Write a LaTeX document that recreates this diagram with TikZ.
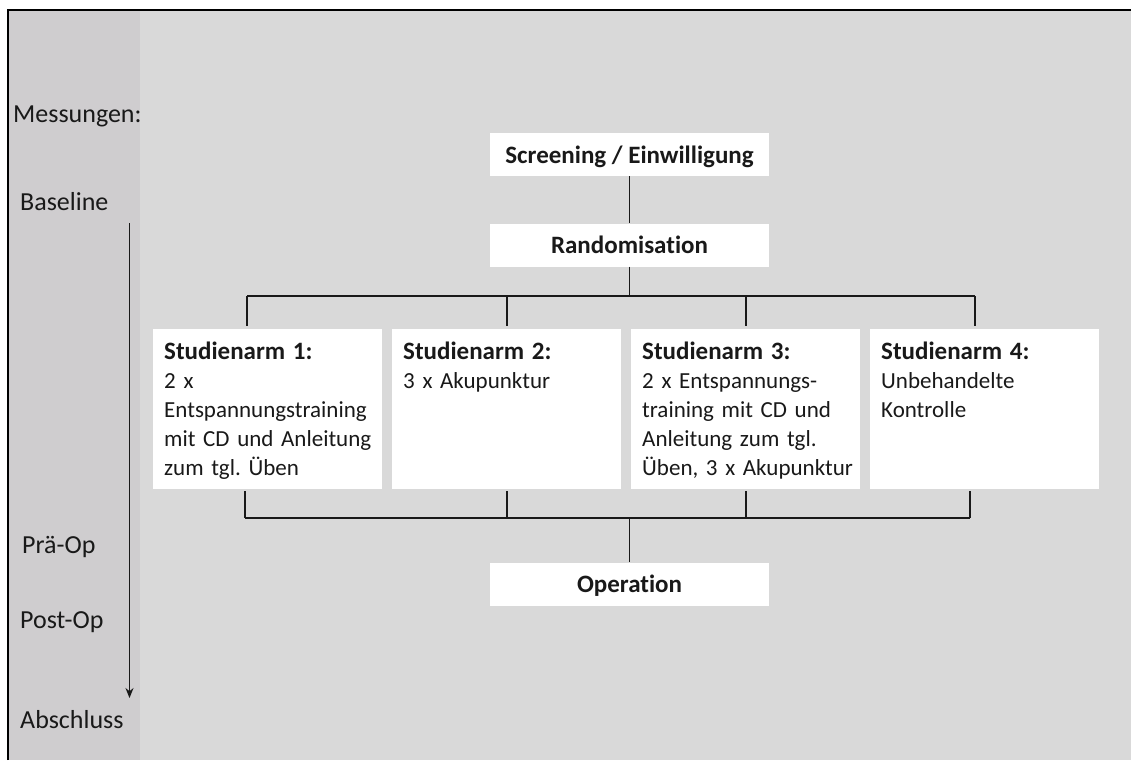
\documentclass[tikz,border=0pt]{standalone}
\usepackage{fontspec}
\setmainfont{Carlito}[Ligatures=NoCommon]
\usetikzlibrary{arrows.meta}
\definecolor{bgmain}{RGB}{217,217,217}
\definecolor{bgstrip}{RGB}{207,205,207}
\definecolor{ink}{RGB}{25,25,25}
\newcommand\armheadfont{\fontsize{25}{29}\selectfont\bfseries}
\frenchspacing
\begin{document}
\begin{tikzpicture}[x=1pt,y=-1pt,
  wbox/.style={fill=white, draw=none, inner sep=0pt, minimum width=279pt, minimum height=43pt,
    text height=20pt, text depth=3pt, font=\fontsize{25}{29}\selectfont\bfseries, text=ink},
  armbox/.style={fill=white, draw=none, inner sep=0pt, minimum width=229pt, minimum height=160pt, anchor=north west},
  armtext/.style={anchor=north west, inner sep=0pt, text width=215pt, align=left,
    font=\fontsize{23}{29}\selectfont, text=ink},
  side/.style={anchor=base west, inner sep=0pt, font=\fontsize{26}{30}\selectfont, text=ink},
  conn/.style={draw=ink, line width=1.6pt},
  timeline/.style={draw=ink, line width=1.3pt, -{Stealth[length=10pt,width=8pt]}},
]
\useasboundingbox (0,0) rectangle (1131,760);
\fill[white] (0,0) rectangle (1131,760);
\fill[bgmain] (8,10) rectangle (1131,760);
\fill[bgstrip] (8,10) rectangle (140,760);
\draw[black, line width=2pt] (8,760) -- (8,10) -- (1131,10);

% left labels
\node[side] (mess) at (13,122) {Messungen:};
\node[side] (base) at (20,210) {Baseline};
\node[side] (prae) at (22,553) {Prä-Op};
\node[side] (post) at (20,628) {Post-Op};
\node[side] (absch) at (20,728) {Abschluss};
\coordinate (tltop) at (129.5,223);
\coordinate (tlend) at (129.5,698);
\draw[timeline] (tltop) -- (tlend);

% main boxes
\node[wbox] (scr) at (629.5,154.5) {Screening / Einwilligung};
\node[wbox] (rand) at (629.5,245) {Randomisation};
\node[wbox] (op) at (629.5,584) {Operation};

% study arms
\node[armbox] (a1) at (153,329) {};
\node[armbox] (a2) at (392,329) {};
\node[armbox] (a3) at (631,329) {};
\node[armbox] (a4) at (870,329) {};
\node[armtext] (t1) at (164,342) {{\armheadfont Studienarm 1:}\\2 x\\Entspannungstraining\\mit CD und Anleitung\\zum tgl. Üben};
\node[armtext] (t2) at (403,342) {{\armheadfont Studienarm 2:}\\3 x Akupunktur};
\node[armtext] (t3) at (642,342) {{\armheadfont Studienarm 3:}\\2 x Entspannungs-\\training mit CD und\\Anleitung zum tgl.\\Üben, 3 x Akupunktur};
\node[armtext] (t4) at (881,342) {{\armheadfont Studienarm 4:}\\Unbehandelte\\Kontrolle};

% connectors
\coordinate (ub1) at (247,296);
\coordinate (ub4) at (975,296);
\coordinate (lb1) at (245,518);
\coordinate (lb4) at (970,518);
\draw[conn] (scr.south) -- (rand.north);
\draw[conn] (rand.south) -- (rand.south |- ub1);
\draw[conn] (ub1) -- (ub4);
\draw[conn, shorten >=3pt] (ub1) -- (ub1 |- a1.north);
\draw[conn, shorten >=3pt] (a2.north |- ub1) -- (a2.north);
\draw[conn, shorten >=3pt] (a3.north |- ub1) -- (a3.north);
\draw[conn, shorten >=3pt] (ub4) -- (ub4 |- a4.north);
\draw[conn, shorten <=2pt] (lb1 |- a1.south) -- (lb1);
\draw[conn, shorten <=2pt] (a2.south) -- (a2.south |- lb1);
\draw[conn, shorten <=2pt] (a3.south) -- (a3.south |- lb1);
\draw[conn, shorten <=2pt] (lb4 |- a4.south) -- (lb4);
\draw[conn] (lb1) -- (lb4);
\draw[conn] (op.north |- lb1) -- (op.north);
\end{tikzpicture}
\end{document}
